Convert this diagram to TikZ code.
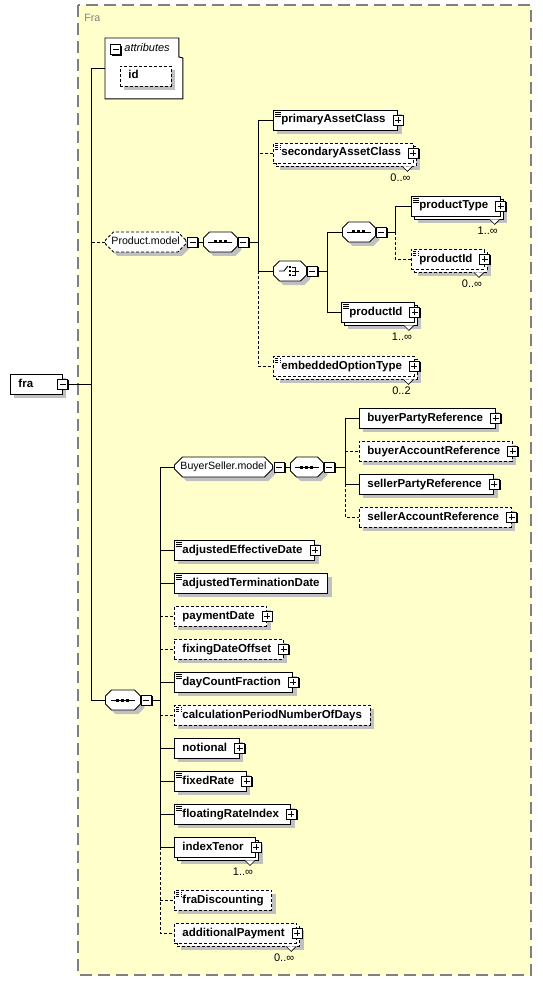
\documentclass[tikz,border=0pt]{standalone}
\usepackage{fontspec}
\setmainfont{Liberation Sans}
\usetikzlibrary{shapes.misc,shadows}

\definecolor{frameyellow}{HTML}{FFFFCC}
\definecolor{framegray}{HTML}{808080}
\definecolor{shadowgray}{HTML}{C0C0C0}

\newcommand{\elfont}{\fontsize{11.5}{13}\selectfont\bfseries}
\newcommand{\grpfont}{\fontsize{10.6}{12}\selectfont}
\newcommand{\occfont}{\fontsize{11}{12}\selectfont}

% sequence and choice symbols
\newcommand{\seqicon}[1]{%
  \draw ([xshift=-12pt]#1.center) -- ([xshift=12pt]#1.center);
  \foreach \d in {-5,0,5} \fill ([xshift=\d pt]#1.center) +(-1.5,-1.5) rectangle +(1.5,1.5);}
\newcommand{\choiceicon}[1]{%
  \draw (#1.center) +(-11,0) -- +(-6,0) -- +(-2,-5);
  \foreach \d in {-4,0,4} \fill ([yshift=-\d pt]#1.center) +(-1.3,-1.3) rectangle +(1.3,1.3);
  \draw (#1.center) +(2,-4) -- +(5,-4) -- +(5,4) -- +(2,4);
  \draw (#1.center) +(2,0) -- +(9,0);}
% occurrence label under a repeated element
\newcommand{\occurs}[2]{%
  \draw[fill=white, line width=0.6pt] ([xshift=-11pt,yshift=-3pt]#1.south east) -- ([xshift=-6pt,yshift=-8pt]#1.south east) -- ([xshift=-1pt,yshift=-3pt]#1.south east);
  \node[font=\occfont, inner sep=0pt] (#1occ) at ([xshift=-13pt,yshift=-14pt]#1.south east) {#2};}

\tikzset{
  elem/.style={draw, fill=white, anchor=west, minimum height=20pt, inner xsep=8pt, inner ysep=0pt,
    font=\elfont, text height=8pt, text depth=2pt},
  grp/.style={chamfered rectangle, chamfered rectangle xsep=4pt, chamfered rectangle ysep=4pt,
    draw, fill=white, anchor=west, minimum height=20pt, inner xsep=2pt, inner ysep=0pt,
    font=\grpfont, text height=7.5pt, text depth=2pt},
  seqbox/.style={grp, minimum width=34pt},
  chbox/.style={grp, minimum width=33pt},
  opt/.style={dash pattern=on 3pt off 2pt},
  solo/.style={drop shadow={shadow xshift=4pt, shadow yshift=-4pt, fill=shadowgray, opacity=1}},
  stacked/.style={drop shadow={shadow xshift=7pt, shadow yshift=-7pt, fill=shadowgray, opacity=1},
    general shadow={shadow xshift=3pt, shadow yshift=-3pt, fill=white, draw=black}},
  doc/.style={path picture={\foreach \k in {2,4,6}
    \draw[line width=0.7pt] ([xshift=2pt,yshift=-\k pt]path picture bounding box.north west) -- +(6,0);}},
  withplus/.style={execute at end node={\hspace{4pt}}},
  pmbox/.style={draw, fill=white, minimum size=10pt, inner sep=0pt,
    drop shadow={shadow xshift=1.3pt, shadow yshift=-1.3pt, fill=black, opacity=1}},
  minusbox/.style={pmbox, path picture={\draw ([xshift=2pt]path picture bounding box.west) -- ([xshift=-2pt]path picture bounding box.east);}},
  plusbox/.style={pmbox, path picture={\draw ([xshift=2pt]path picture bounding box.west) -- ([xshift=-2pt]path picture bounding box.east);
    \draw ([yshift=-2pt]path picture bounding box.north) -- ([yshift=2pt]path picture bounding box.south);}}
}

\begin{document}
\begin{tikzpicture}[x=1pt, y=-1pt, line width=0.9pt]
\useasboundingbox (0,0) rectangle (542,981);

% frame of the complex type
\draw[framegray, fill=frameyellow, line width=1.5pt, dash pattern=on 12pt off 6pt] (78,5) rectangle (531,975);
\node[anchor=west, text=framegray, font=\grpfont, inner sep=0pt] (title) at (84,18) {Fra};

% root element
\node[elem, solo, text width=36pt, align=left] (fra) at (10,384) {fra};
\node[minusbox] (fram) at (fra.east) {};
\coordinate (t0) at (91,384);

% attributes
\node[minimum width=77pt, minimum height=60pt, anchor=north west, inner sep=0pt] (attr) at (105,38) {};
\draw[fill=white] (attr.north west) -- ([xshift=-4pt]attr.north east) -- ([xshift=-4pt,yshift=-19pt]attr.north east)
  -- ([yshift=-20pt]attr.north east) -- (attr.south east) -- (attr.south west) -- cycle;
\node[minusbox] (attrm) at (115.5,49.5) {};
\node[anchor=west, font=\fontsize{11}{13}\selectfont\itshape, inner sep=0pt] (attrt) at (124,48) {attributes};
\node[elem, opt, solo, text width=35pt, align=left] (id) at (120,76) {id};

% Product.model
\node[grp, opt, solo, minimum width=76pt] (pm) at (105,242) {Product.model};
\node[minusbox, anchor=west] (pmm) at ([xshift=1pt]pm.east) {};
\node[seqbox, solo] (s1) at (203,242) {};
\seqicon{s1}
\node[minusbox, anchor=west] (s1m) at (s1.east) {};
\coordinate (t1) at (258,242);

\node[elem, doc, solo, withplus] (pac) at (273,120) {primaryAssetClass};
\node[plusbox] (pacp) at (pac.east) {};
\node[elem, opt, doc, stacked, withplus] (sac) at (273,153) {secondaryAssetClass};
\node[plusbox] (sacp) at (sac.east) {};
\occurs{sac}{0..∞}
\node[chbox, solo] (ch) at (273,271) {};
\choiceicon{ch}
\node[minusbox, anchor=west] (chm) at (ch.east) {};
\coordinate (t2) at (327,271);
\node[elem, opt, doc, stacked, withplus] (eot) at (273,366) {embeddedOptionType};
\node[plusbox] (eotp) at (eot.east) {};
\occurs{eot}{0..2}

% choice branches
\node[seqbox, solo, minimum width=33pt] (s3) at (342,232) {};
\seqicon{s3}
\node[minusbox, anchor=west] (s3m) at (s3.east) {};
\coordinate (t3) at (395,232);
\node[elem, doc, stacked, withplus] (pt) at (411,206) {productType};
\node[plusbox] (ptp) at (pt.east) {};
\occurs{pt}{1..∞}
\node[elem, opt, doc, stacked, withplus] (pid1) at (411,259) {productId};
\node[plusbox] (pid1p) at (pid1.east) {};
\occurs{pid1}{0..∞}
\node[elem, doc, stacked, withplus] (pid2) at (341,312) {productId};
\node[plusbox] (pid2p) at (pid2.east) {};
\occurs{pid2}{1..∞}

% main sequence
\node[seqbox, solo, minimum width=35pt] (s2) at (105,700) {};
\seqicon{s2}
\node[minusbox, anchor=west] (s2m) at (s2.east) {};
\coordinate (t4) at (160,700);

\node[grp, solo, minimum width=94pt] (bsm) at (174,467) {BuyerSeller.model};
\node[minusbox, anchor=west] (bsmm) at ([xshift=1pt]bsm.east) {};
\node[seqbox, solo, minimum width=33pt] (s4) at (290,467) {};
\seqicon{s4}
\node[minusbox, anchor=west] (s4m) at (s4.east) {};
\coordinate (t5) at (345,467);

\node[elem, solo, withplus] (bpr) at (359,418) {buyerPartyReference};
\node[plusbox] (bprp) at (bpr.east) {};
\node[elem, opt, solo, withplus] (bar) at (359,451) {buyerAccountReference};
\node[plusbox] (barp) at (bar.east) {};
\node[elem, solo, withplus] (spr) at (359,484) {sellerPartyReference};
\node[plusbox] (sprp) at (spr.east) {};
\node[elem, opt, solo, withplus] (sar) at (359,517) {sellerAccountReference};
\node[plusbox] (sarp) at (sar.east) {};

\node[elem, doc, solo, withplus] (aed) at (174,550) {adjustedEffectiveDate};
\node[plusbox] (aedp) at (aed.east) {};
\node[elem, doc, solo] (atd) at (174,583) {adjustedTerminationDate};
\node[elem, opt, solo, withplus] (pd) at (174,616) {paymentDate};
\node[plusbox] (pdp) at (pd.east) {};
\node[elem, opt, solo, withplus] (fdo) at (174,649) {fixingDateOffset};
\node[plusbox] (fdop) at (fdo.east) {};
\node[elem, doc, solo, withplus] (dcf) at (174,682) {dayCountFraction};
\node[plusbox] (dcfp) at (dcf.east) {};
\node[elem, opt, doc, solo] (cpnd) at (174,715) {calculationPeriodNumberOfDays};
\node[elem, solo, withplus] (not) at (174,748) {notional};
\node[plusbox] (notp) at (not.east) {};
\node[elem, doc, solo, withplus] (fr) at (174,781) {fixedRate};
\node[plusbox] (frp) at (fr.east) {};
\node[elem, doc, solo, withplus] (fri) at (174,814) {floatingRateIndex};
\node[plusbox] (frip) at (fri.east) {};
\node[elem, stacked, withplus] (it) at (174,847) {indexTenor};
\node[plusbox] (itp) at (it.east) {};
\occurs{it}{1..∞}
\node[elem, opt, doc, solo] (fd) at (174,900) {fraDiscounting};
\node[elem, opt, stacked, withplus] (ap) at (174,933) {additionalPayment};
\node[plusbox] (app) at (ap.east) {};
\occurs{ap}{0..∞}

% connectors
\draw (fram.east) -- (t0);
\draw (attr.west) -- (attr.west -| t0) -- (s2.west -| t0) -- (s2.west);
\draw[opt] (pm.west) -- (pm.west -| t0);
\draw (pmm.east) -- (s1.west);
\draw (s1m.east) -- (t1);
\draw (pac.west) -- (pac.west -| t1) -- (ch.west -| t1) -- (ch.west);
\draw[opt] (sac.west) -- (sac.west -| t1);
\draw[opt] (ch.west -| t1) -- (eot.west -| t1) -- (eot.west);
\draw (chm.east) -- (t2);
\draw (s3.west) -- (s3.west -| t2) -- (pid2.west -| t2) -- (pid2.west);
\draw (s3m.east) -- (t3);
\draw (pt.west) -- (pt.west -| t3) -- (t3);
\draw[opt] (t3) -- (pid1.west -| t3) -- (pid1.west);

\draw (s2m.east) -- (t4);
\draw (bsm.west) -- (bsm.west -| t4) -- (it.west -| t4) -- (it.west);
\foreach \n in {aed,atd,dcf,not,fr,fri} \draw (\n.west -| t4) -- (\n.west);
\foreach \n in {pd,fdo,cpnd,fd} \draw[opt] (\n.west -| t4) -- (\n.west);
\draw[opt] (it.west -| t4) -- (ap.west -| t4) -- (ap.west);
\draw (bsmm.east) -- (s4.west);
\draw (s4m.east) -- (t5);
\draw (bpr.west) -- (bpr.west -| t5) -- (spr.west -| t5) -- (spr.west);
\draw[opt] (bar.west -| t5) -- (bar.west);
\draw[opt] (spr.west -| t5) -- (sar.west -| t5) -- (sar.west);
\end{tikzpicture}
\end{document}
